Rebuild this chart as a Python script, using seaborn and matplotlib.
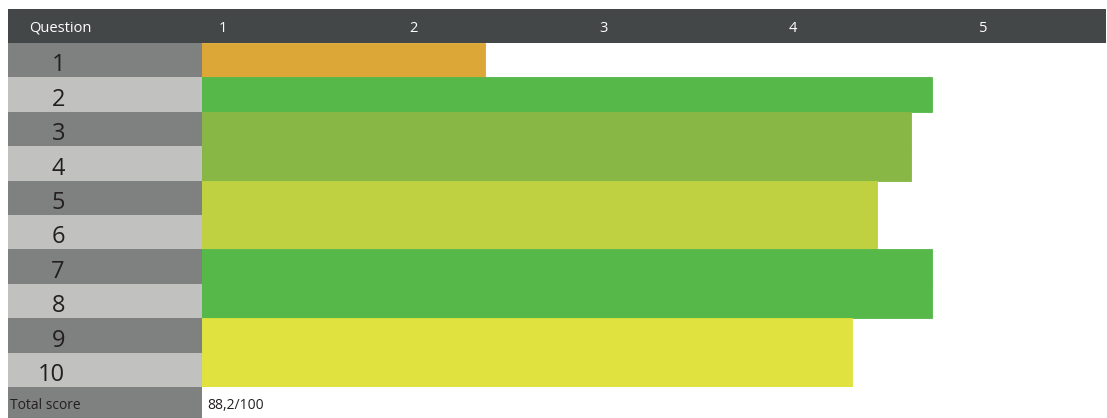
import matplotlib
matplotlib.use("Agg")
import matplotlib.pyplot as plt
import matplotlib.transforms as mtransforms
from matplotlib.patches import Rectangle
import seaborn as sns
import pandas as pd

# ---- data ----
questions = ["1", "2", "3", "4", "5", "6", "7", "8", "9", "10"]
scores = [2.49, 4.84, 4.73, 4.73, 4.55, 4.55, 4.84, 4.84, 4.42, 4.42]
bar_colors = ["#dca736", "#55b848", "#88b745", "#88b745", "#bfd141",
              "#bfd141", "#55b848", "#55b848", "#dfe23f", "#dfe23f"]
tick_values = [1, 2, 3, 4, 5]
tick_labels = ["1", "2", "3", "4", "5"]
header_label = "Question"
total_label = "Total score"
total_value = "88,2/100"

sns.set_theme(style="white")
plt.rcParams["font.family"] = ["Open Sans", "DejaVu Sans"]

W, H = 1107, 418
fig = plt.figure(figsize=(W / 100, H / 100), dpi=100)
fig.patch.set_facecolor("white")

def fx(px):
    return px / W

def fy(py):
    return (H - py) / H

# geometry (pixels)
left_x0, left_x1 = 8, 202
right_x1 = 1106
head_y0, head_y1 = 9, 43
rows_y1 = 387
total_y1 = 418
row_h = (rows_y1 - head_y1) / len(questions)

dark_row = "#7f8180"
light_row = "#c1c2bf"
header_col = "#434748"
text_dark = "#231f20"

# bar axes
ax = fig.add_axes([fx(left_x1), fy(rows_y1), fx(right_x1 - left_x1), (rows_y1 - head_y1) / H])
df = pd.DataFrame({"question": questions, "score": scores})
sns.barplot(data=df, x="score", y="question", hue="question", order=questions,
            hue_order=questions, palette=bar_colors, orient="h", width=1.0,
            legend=False, ax=ax, linewidth=0.6, saturation=1)
for patch, c in zip(ax.patches, bar_colors):
    patch.set_edgecolor(c)
ax.set_xlim(1, 1 + (right_x1 - left_x1) / 190)
ax.set_ylim(len(questions) - 0.5, -0.5)
ax.set_xlabel("")
ax.set_ylabel("")
ax.set_xticks([])
ax.set_yticks([])
for s in ax.spines.values():
    s.set_visible(False)

# left column
axl = fig.add_axes([fx(left_x0), fy(rows_y1), fx(left_x1 - left_x0), (rows_y1 - head_y1) / H],
                   sharey=ax)
axl.set_xlim(0, 1)
for i, q in enumerate(questions):
    axl.axhspan(i - 0.5, i + 0.5, color=dark_row if i % 2 == 0 else light_row, lw=0)
    axl.text((65 - left_x0) / (left_x1 - left_x0), i + 0.5 - 6 / row_h, q,
             ha="right", va="baseline", fontsize=17, color=text_dark)
axl.set_ylim(len(questions) - 0.5, -0.5)
axl.tick_params(left=False, bottom=False, labelleft=False, labelbottom=False)
for s in axl.spines.values():
    s.set_visible(False)

# header bar
fig.add_artist(Rectangle((fx(left_x0), fy(head_y1)), fx(right_x1 - left_x0),
                         (head_y1 - head_y0) / H, transform=fig.transFigure,
                         facecolor=header_col, edgecolor="none", zorder=-1))
fig.text(fx(29), fy(32), header_label, color="white", fontsize=10.5, va="baseline", ha="left")
trans = mtransforms.blended_transform_factory(ax.transData, fig.transFigure)
trans = mtransforms.offset_copy(trans, fig=fig, x=21, y=0, units="dots")
for v, lab in zip(tick_values, tick_labels):
    fig.text(v, fy(32), lab, transform=trans, color="white", fontsize=10.5,
             ha="center", va="baseline")

# total score row
fig.add_artist(Rectangle((fx(left_x0), fy(total_y1)), fx(left_x1 - left_x0),
                         (total_y1 - rows_y1) / H, transform=fig.transFigure,
                         facecolor=dark_row, edgecolor="none", zorder=-1))
fig.text(fx(10), fy(409), total_label, color=text_dark, fontsize=10, va="baseline", ha="left")
fig.text(fx(207), fy(409), total_value, color=text_dark, fontsize=10, va="baseline", ha="left")

fig.savefig("out.png", dpi=100, facecolor="white")
